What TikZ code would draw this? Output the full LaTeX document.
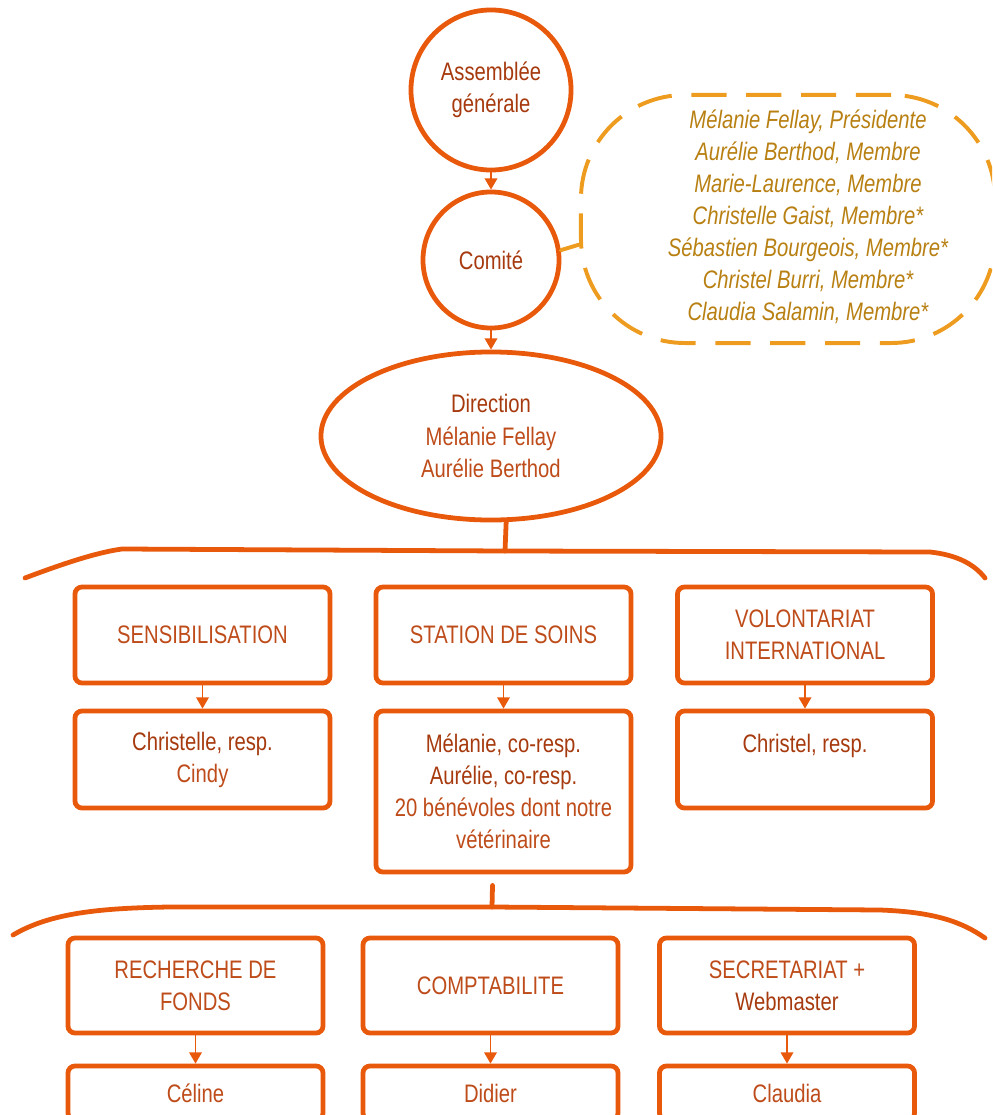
\documentclass[tikz,border=0pt]{standalone}
\usepackage{fontspec}
\setmainfont{Liberation Sans}[FakeStretch=0.8]
\usetikzlibrary{shapes.geometric, arrows.meta}
\definecolor{orangeTrait}{RGB}{232,89,12}
\definecolor{orClair}{RGB}{238,156,32}
\definecolor{texteFonce}{RGB}{166,58,14}
\definecolor{texteClair}{RGB}{190,76,26}
\definecolor{texteOr}{RGB}{184,128,18}
\tikzset{
  boite/.style={draw=orangeTrait, line width=3.4pt, rounded corners=5pt, minimum width=6.375cm, align=center, inner sep=2pt, text=texteClair},
  rond/.style={circle, draw=orangeTrait, line width=3.4pt, align=center, inner sep=0pt, text=texteFonce},
  fleche/.style={draw=orangeTrait, line width=1pt, -{Triangle[width=9pt,length=8pt]}},
  accolade/.style={draw=orangeTrait, line width=3.4pt, line cap=round, line join=round},
}
\newcommand{\fort}[1]{\textcolor{texteFonce}{#1}}

\begin{document}
\begin{tikzpicture}[x=0.025cm, y=-0.025cm, font=\fontsize{18}{22.8}\selectfont]
\clip (0,0) rectangle (992,1115);
\node[rond, minimum size=4cm] (assemblee) at (491,90) {Assemblée\\générale};
\node[rond, minimum size=3.4cm] (comite) at (491,260) {Comité};
\node[ellipse, draw=orangeTrait, line width=3.4pt, minimum width=8.5cm, minimum height=4.2cm, inner sep=0pt, align=center, text=texteClair] (direction) at (491,436) {\fort{Direction}\\Mélanie Fellay\\Aurélie Berthod};
\draw[fleche] (assemblee) -- (comite);
\draw[fleche] (comite) -- (direction);

% comité : membres
\node[draw=orClair, line width=2.8pt, dash pattern=on 25pt off 14pt, rounded corners=2.6cm, minimum width=10.35cm, minimum height=6.2cm] (bulle) at (788,219) {};
\node[text=texteOr, align=center, font=\fontsize{18}{22.8}\selectfont\itshape] (membres) at (808,217) {Mélanie Fellay, Présidente\\Aurélie Berthod, Membre\\Marie-Laurence, Membre\\Christelle Gaist, Membre*\\Sébastien Bourgeois, Membre*\\Christel Burri, Membre*\\Claudia Salamin, Membre*};
\draw[orClair, line width=2.8pt, line cap=round] (comite.8) -- (bulle.187);

% 第一层
\coordinate (brace1) at (505,551);
\draw[accolade] (25,578) .. controls (70,561) and (100,552) .. (122,549) -- (brace1) -- (930,552) .. controls (958,555) and (975,565) .. (985,578);
\draw[accolade] (direction.-80) -- (brace1);

\node[boite, minimum height=2.4cm] (sensib) at (202.5,635) {SENSIBILISATION};
\node[boite, minimum height=2.4cm] (soins) at (503.5,635) {STATION DE SOINS};
\node[boite, minimum height=2.4cm] (volont) at (805,635) {VOLONTARIAT\\INTERNATIONAL};

\node[boite, minimum height=2.425cm] (sensibEquipe) at (202.5,759.5) {\fort{Christelle, resp.}\\Cindy};
\node[boite, minimum height=4.025cm] (soinsEquipe) at (503.5,791.5) {\fort{Mélanie, co-resp.}\\\fort{Aurélie, co-resp.}\\20 bénévoles dont notre\\vétérinaire};
\node[boite, minimum height=2.425cm] (volontEquipe) at (805,759.5) {\fort{Christel, resp.}\\\mbox{}};
\draw[fleche] (sensib) -- (sensibEquipe);
\draw[fleche] (soins) -- (soinsEquipe);
\draw[fleche] (volont) -- (volontEquipe);

% 第二层
\coordinate (brace2) at (492,907);
\draw[accolade] (13,935) .. controls (50,913) and (100,908) .. (170,907) -- (brace2) -- (880,910) .. controls (935,912) and (962,922) .. (985,938);
\draw[accolade] (soinsEquipe.south) ++(-11,11) -- (brace2);

\node[boite, minimum height=2.375cm] (fonds) at (195.5,985.5) {RECHERCHE DE\\FONDS};
\node[boite, minimum height=2.375cm] (compta) at (490.5,985.5) {COMPTABILITE};
\node[boite, minimum height=2.375cm] (secret) at (787,985.5) {SECRETARIAT +\\\fort{Webmaster}};

\node[boite, minimum height=1.35cm] (fondsNom) at (195.5,1093) {Céline};
\node[boite, minimum height=1.35cm] (comptaNom) at (490.5,1093) {Didier};
\node[boite, minimum height=1.35cm] (secretNom) at (787,1093) {Claudia};
\draw[fleche] (fonds) -- (fondsNom);
\draw[fleche] (compta) -- (comptaNom);
\draw[fleche] (secret) -- (secretNom);
\end{tikzpicture}
\end{document}
